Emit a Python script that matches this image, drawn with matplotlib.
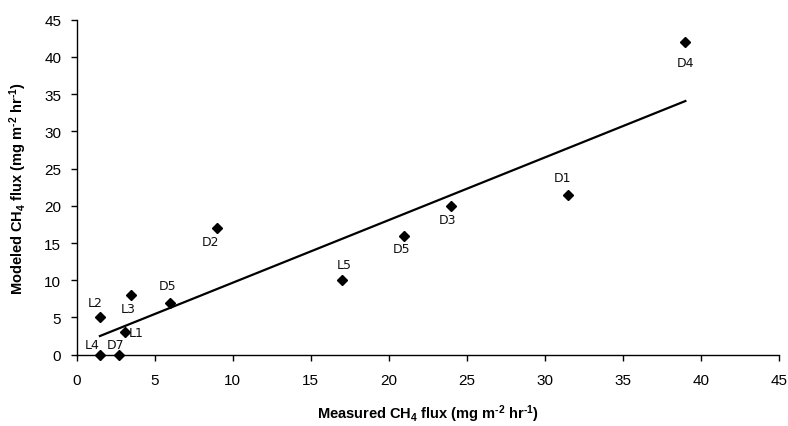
import numpy as np
import matplotlib.pyplot as plt

plt.rcParams['font.family'] = ['Liberation Sans', 'DejaVu Sans']
plt.rcParams['mathtext.fontset'] = 'custom'
plt.rcParams['mathtext.rm'] = 'Liberation Sans:bold'
plt.rcParams['mathtext.default'] = 'rm'

# site labels, measured vs modeled CH4 flux
sites = ['D4', 'D1', 'D3', 'D5', 'L5', 'D2', 'D5', 'L3', 'L2', 'L1', 'L4', 'D7']
measured = [39, 31.5, 24, 21, 17, 9, 6, 3.5, 1.5, 3.1, 1.5, 2.75]
modeled = [42, 21.5, 20, 16, 10, 17, 7, 8, 5, 3, 0, 0]

# label offsets from each point (pixels)
offsets = [(0, -20), (-6, 17), (-4, -14), (-3, -13), (2, 16), (-7, -13),
           (-3, 17), (-3, -13), (-5, 15), (11, 0), (-8, 10), (-4, 10)]

fig = plt.figure(figsize=(7.88, 4.27), dpi=100)
ax = fig.add_axes([0.0971, 0.167, 0.8915, 0.7845])

# linear trendline over the data range
slope, icpt = np.polyfit(measured, modeled, 1)
xl = np.array([min(measured), max(measured)])
ax.plot(xl, slope * xl + icpt, color='black', lw=1.6, zorder=2)

ax.plot(measured, modeled, 'D', color='black', ms=5, zorder=3, clip_on=False)

for name, x, y, (dx, dy) in zip(sites, measured, modeled, offsets):
    ax.annotate(name, (x, y), xytext=(dx, dy), textcoords='offset pixels',
                ha='center', va='center', fontsize=9, family='DejaVu Sans',
                color='#111111')

ax.set_xlim(0, 45)
ax.set_ylim(0, 45)
ax.set_xticks(range(0, 46, 5))
ax.set_yticks(range(0, 46, 5))
ax.tick_params(labelsize=11, length=4, width=1, direction='out')
ax.tick_params(axis='x', pad=9)
ax.tick_params(axis='y', pad=7)
for s in ['top', 'right']:
    ax.spines[s].set_visible(False)
for s in ['left', 'bottom']:
    ax.spines[s].set_linewidth(1)

ax.set_xlabel(r'Measured CH$_4$ flux (mg m$^{\text{-}2}$ hr$^{\text{-}1}$)',
              fontsize=10.5, fontweight='bold')
ax.set_ylabel(r'Modeled CH$_4$ flux (mg m$^{\text{-}2}$ hr$^{\text{-}1}$)',
              fontsize=10.5, fontweight='bold')
ax.xaxis.set_label_coords(0.5, -0.142)
ax.yaxis.set_label_coords(-0.068, 0.5)

fig.savefig('out.png', dpi=100)
